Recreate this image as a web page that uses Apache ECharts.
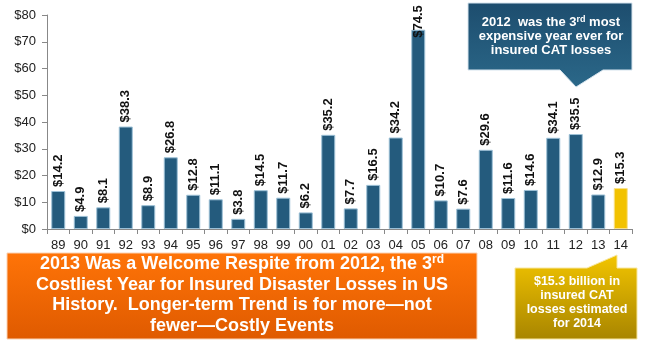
<!DOCTYPE html>
<html>
<head>
<meta charset="utf-8">
<script src="https://cdn.jsdelivr.net/npm/echarts@6/dist/echarts.min.js"></script>
<style>
  html, body { margin: 0; padding: 0; background: #ffffff; }
  #chart { width: 650px; height: 342px; }
</style>
</head>
<body>
<div id="chart"></div>
<script>
// Insured catastrophe losses in the US, $ billions
const years = ['89','90','91','92','93','94','95','96','97','98','99','00','01',
               '02','03','04','05','06','07','08','09','10','11','12','13','14'];
const losses = [14.2, 4.9, 8.1, 38.3, 8.9, 26.8, 12.8, 11.1, 3.8, 14.5, 11.7, 6.2, 35.2,
                7.7, 16.5, 34.2, 74.5, 10.7, 7.6, 29.6, 11.6, 14.6, 34.1, 35.5, 12.9, 15.3];
const highlightYear = '14';
const yTicks = [0, 10, 20, 30, 40, 50, 60, 70, 80];

const FONT = '"Liberation Sans", Arial, sans-serif';
const chart = echarts.init(document.getElementById('chart'), null, { renderer: 'canvas' });

const barData = losses.map((v, i) => {
  const hi = years[i] === highlightYear;
  const item = {
    value: v,
    itemStyle: hi
      ? { color: '#F2C200', borderColor: '#F8E08A', borderWidth: 1 }
      : { color: '#245B7D', borderColor: '#9CC0D6', borderWidth: 1 }
  };
  // the tallest bar's label would run off the top, so pull it down into the bar
  if (v > 70) item.label = { distance: -8 };
  return item;
});

function grad(top, bottom) {
  return new echarts.graphic.LinearGradient(0, 0, 0, 1, [
    { offset: 0, color: top }, { offset: 1, color: bottom }
  ]);
}

chart.setOption({
  backgroundColor: '#ffffff',
  animation: false,
  grid: { left: 47, right: 18, top: 15, bottom: 113, containLabel: false },
  xAxis: {
    type: 'category',
    data: years,
    boundaryGap: true,
    axisLine: { lineStyle: { color: '#888888', width: 1 } },
    axisTick: { show: true, length: 5, lineStyle: { color: '#888888' } },
    axisLabel: { color: '#222222', fontFamily: FONT, fontSize: 13, margin: 10 }
  },
  yAxis: {
    type: 'value',
    min: yTicks[0],
    max: yTicks[yTicks.length - 1],
    interval: yTicks[1] - yTicks[0],
    splitLine: { show: false },
    axisLine: { show: true, lineStyle: { color: '#888888', width: 1 } },
    axisTick: { show: true, length: 5, lineStyle: { color: '#888888' } },
    axisLabel: {
      color: '#222222', fontFamily: FONT, fontSize: 13, margin: 11,
      formatter: v => '$' + v
    }
  },
  series: [{
    type: 'bar',
    data: barData,
    barWidth: 14,
    label: {
      show: true,
      position: 'top',
      rotate: 90,
      align: 'left',
      verticalAlign: 'middle',
      distance: 4,
      color: '#111111',
      fontFamily: FONT,
      fontWeight: 'bold',
      fontSize: 13,
      formatter: p => '$' + p.value.toFixed(1)
    }
  }],
  graphic: [
    // 2012 callout (box with a pointer down toward the 2012 bar)
    {
      type: 'polygon',
      shape: { points: [[468, 3], [632, 3], [632, 70], [603, 70], [576, 87], [560, 70], [468, 70]] },
      style: { fill: grad('#1D4D6E', '#2B6889'), stroke: '#D6E4EE', lineWidth: 1 },
      z: 10
    },
    {
      type: 'text',
      x: 551, y: 36,
      style: {
        text: '2012  was the 3{sup|rd} most\nexpensive year ever for\ninsured CAT losses',
        fill: '#ffffff',
        font: 'bold 13px ' + FONT,
        lineHeight: 14,
        align: 'center',
        verticalAlign: 'middle',
        rich: {
          sup: { fontSize: 9, fontWeight: 'bold', fill: '#ffffff', verticalAlign: 'top', lineHeight: 14, fontFamily: FONT }
        }
      },
      z: 11
    },
    // headline panel
    {
      type: 'rect',
      shape: { x: 7, y: 253, width: 470, height: 86 },
      style: { fill: grad('#FF7408', '#DF5A00'), stroke: '#FAD2B4', lineWidth: 1 },
      z: 10
    },
    {
      type: 'text',
      x: 242, y: 295,
      style: {
        text: '2013 Was a Welcome Respite from 2012, the 3{sup|rd}\nCostliest Year for Insured Disaster Losses in US\nHistory.  Longer-term Trend is for more\u2014not\nfewer\u2014Costly Events',
        fill: '#ffffff',
        font: 'bold 18px ' + FONT,
        lineHeight: 20.5,
        align: 'center',
        verticalAlign: 'middle',
        rich: {
          sup: { fontSize: 12, fontWeight: 'bold', fill: '#ffffff', verticalAlign: 'top', lineHeight: 20.5, fontFamily: FONT }
        }
      },
      z: 11
    },
    // 2014 estimate callout (pointer up toward the 2014 bar)
    {
      type: 'polygon',
      shape: { points: [[515, 268], [587, 268], [617, 255], [617, 268], [637, 268], [637, 339], [515, 339]] },
      style: { fill: grad('#F3C500', '#A88500'), stroke: '#F8E7A0', lineWidth: 1 },
      z: 10
    },
    {
      type: 'text',
      x: 577, y: 303,
      style: {
        text: '$15.3 billion in\ninsured CAT\nlosses estimated\nfor 2014',
        fill: '#ffffff',
        font: 'bold 12.5px ' + FONT,
        lineHeight: 14,
        align: 'center',
        verticalAlign: 'middle'
      },
      z: 11
    }
  ]
});
</script>
</body>
</html>
